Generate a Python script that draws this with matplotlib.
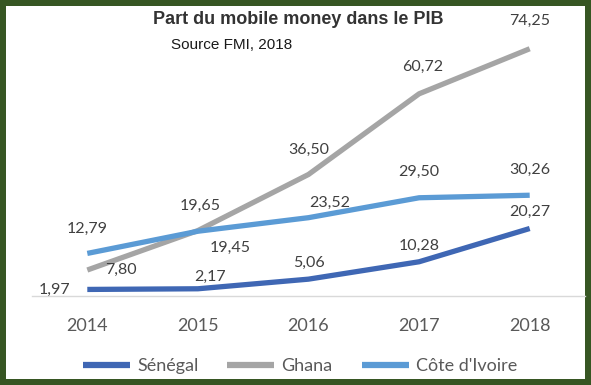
import matplotlib
matplotlib.use("Agg")
import matplotlib.pyplot as plt

years = ["2014", "2015", "2016", "2017", "2018"]
senegal = [1.97, 2.17, 5.06, 10.28, 20.27]
ghana = [7.80, 19.65, 36.50, 60.72, 74.25]
cote = [12.79, 19.45, 23.52, 29.50, 30.26]

series_names = ["Sénégal", "Ghana", "Côte d'Ivoire"]
colors = ["#3F67B4", "#A5A5A5", "#5B9BD5"]

# label offsets in pixels (layout only)
offsets = [
    [(-33, 0), (12, 12), (0, 16), (0, 16), (0, 17)],
    [(34, 0), (2, 25), (0, 25), (4, 27), (0, 28)],
    [(0, 25), (32, -17), (21, 15), (0, 26), (0, 25)],
]

fig = plt.figure(figsize=(5.91, 3.85), dpi=100, facecolor="white",
                 edgecolor="#375623", linewidth=7.5)
ax = fig.add_axes([32 / 591, (385 - 296) / 385, (585 - 32) / 591, (296 - 29.6) / 385])

x = list(range(len(years)))
lines = []
for vals, name, col, offs in zip([senegal, ghana, cote], series_names, colors, offsets):
    ln, = ax.plot(x, vals, color=col, lw=3.8, label=name, solid_capstyle="butt",
                  solid_joinstyle="round")
    lines.append(ln)
    for xi, v, (dx, dy) in zip(x, vals, offs):
        ax.annotate(f"{v:.2f}".replace(".", ","), (xi, v), xytext=(dx, dy),
                    textcoords="offset pixels", ha="center", va="center",
                    fontsize=11.5, color="#404040", family="Lato")

ax.set_xlim(-0.5, 4.5)
ax.set_ylim(0, 80)
ax.set_xticks(x)
ax.set_xticklabels(years, fontsize=13, color="#595959", family="Lato")
ax.tick_params(axis="x", length=0, pad=16)
ax.set_yticks([])
for s in ["top", "left", "right"]:
    ax.spines[s].set_visible(False)
ax.spines["bottom"].set_color("#D9D9D9")
ax.spines["bottom"].set_linewidth(1)
ax.patch.set_alpha(0)

leg = fig.legend(handles=lines, loc="center", bbox_to_anchor=(300 / 591, 1 - 366 / 385),
                 ncol=3, frameon=False, handlelength=2.6, columnspacing=1.6,
                 handletextpad=0.4, prop={"family": "Lato", "size": 13})
for t in leg.get_texts():
    t.set_color("#595959")
for h in leg.legend_handles:
    h.set_linewidth(4.5)

fig.text(298 / 591, 1 - 20 / 385, "Part du mobile money dans le PIB",
         ha="center", va="center", fontsize=13, fontweight="bold",
         color="#333333", family="Liberation Sans")
fig.text(232 / 591, 1 - 45 / 385, "Source FMI, 2018",
         ha="center", va="center", fontsize=11, color="#1a1a1a",
         family="Liberation Sans")

fig.savefig("out.png", dpi=100, facecolor=fig.get_facecolor(), edgecolor=fig.get_edgecolor())
